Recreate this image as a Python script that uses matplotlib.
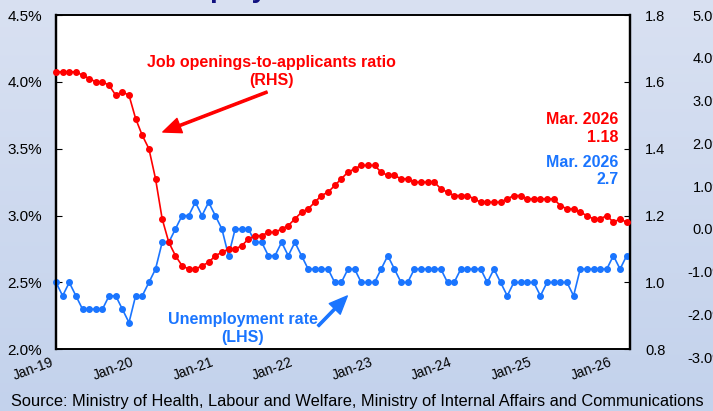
import numpy as np
import pandas as pd
import matplotlib
matplotlib.use('Agg')
import matplotlib.pyplot as plt
from matplotlib.ticker import FormatStrFormatter
from matplotlib.colors import LinearSegmentedColormap

# Datos mensuales Jan-19 .. Mar-26
meses = pd.date_range('2019-01-01', '2026-03-01', freq='MS')

# Tasa de desempleo (%), eje izquierdo
desempleo = [2.5, 2.4, 2.5, 2.4, 2.3, 2.3, 2.3, 2.3, 2.4, 2.4, 2.3, 2.2,
             2.4, 2.4, 2.5, 2.6, 2.8, 2.8, 2.9, 3.0, 3.0, 3.1, 3.0, 3.1,
             3.0, 2.9, 2.7, 2.9, 2.9, 2.9, 2.8, 2.8, 2.7, 2.7, 2.8, 2.7,
             2.8, 2.7, 2.6, 2.6, 2.6, 2.6, 2.5, 2.5, 2.6, 2.6, 2.5, 2.5,
             2.5, 2.6, 2.7, 2.6, 2.5, 2.5, 2.6, 2.6, 2.6, 2.6, 2.6, 2.5,
             2.5, 2.6, 2.6, 2.6, 2.6, 2.5, 2.6, 2.5, 2.4, 2.5, 2.5, 2.5,
             2.5, 2.4, 2.5, 2.5, 2.5, 2.5, 2.4, 2.6, 2.6, 2.6, 2.6, 2.6,
             2.7, 2.6, 2.7]

# Ratio ofertas/solicitantes, eje derecho
ratio = [1.63, 1.63, 1.63, 1.63, 1.62, 1.61, 1.60, 1.60, 1.59, 1.56, 1.57, 1.56,
         1.49, 1.44, 1.40, 1.31, 1.19, 1.12, 1.08, 1.05, 1.04, 1.04, 1.05, 1.06,
         1.08, 1.09, 1.10, 1.10, 1.11, 1.13, 1.14, 1.14, 1.15, 1.15, 1.16, 1.17,
         1.19, 1.21, 1.22, 1.24, 1.26, 1.27, 1.29, 1.31, 1.33, 1.34, 1.35, 1.35,
         1.35, 1.33, 1.32, 1.32, 1.31, 1.31, 1.30, 1.30, 1.30, 1.30, 1.28, 1.27,
         1.26, 1.26, 1.26, 1.25, 1.24, 1.24, 1.24, 1.24, 1.25, 1.26, 1.26, 1.25,
         1.25, 1.25, 1.25, 1.25, 1.23, 1.22, 1.22, 1.21, 1.20, 1.19, 1.19, 1.20,
         1.18, 1.19, 1.18]

ticks_izq = [2.0, 2.5, 3.0, 3.5, 4.0, 4.5]
ticks_der = [0.8, 1.0, 1.2, 1.4, 1.6, 1.8]
ticks_otro = [-3.0, -2.0, -1.0, 0.0, 1.0, 2.0, 3.0, 4.0, 5.0]

x = np.arange(len(meses))
etiquetas_x = [m.strftime('%b-%y') for m in meses[::12]]

azul = '#1a75ff'
rojo = '#ff0000'

plt.rcParams['font.family'] = ['Liberation Sans', 'DejaVu Sans']

W, H = 713, 411
fig = plt.figure(figsize=(W / 100, H / 100), dpi=100)

# fondo degradado
fondo = fig.add_axes([0, 0, 1, 1], zorder=-10)
cmap = LinearSegmentedColormap.from_list('fondo', ['#d9e1f2', '#c3d2ec'])
fondo.imshow(np.linspace(0, 1, 256).reshape(-1, 1), aspect='auto', cmap=cmap,
             extent=[0, 1, 0, 1])
fondo.axis('off')

# eje recortado de otro grafico a la derecha
ax3 = fig.add_axes([56 / W, 1 - 357 / H, (630 - 56) / W, (357 - 15) / H])
ax3.patch.set_visible(False)
for s in ax3.spines.values():
    s.set_visible(False)
ax3.set_ylim(-3, 5)
ax3.set_yticks(ticks_otro)
ax3.yaxis.set_major_formatter(FormatStrFormatter('%.1f%%'))
ax3.yaxis.tick_right()
ax3.set_xticks([])
ax3.tick_params(axis='y', length=0, pad=69, labelsize=10.5)
for lab in ax3.get_yticklabels():
    lab.set_horizontalalignment('right')

ax = fig.add_axes([56 / W, 1 - 349.3 / H, (630 - 56) / W, (349.3 - 15) / H])
ax.set_facecolor('white')
ax.plot(x, desempleo, color=azul, lw=1.2, marker='o', ms=4, clip_on=False, zorder=3)
ax.set_xlim(0, 86.5)
ax.set_ylim(2.0, 4.5)
ax.set_yticks(ticks_izq)
ax.yaxis.set_major_formatter(FormatStrFormatter('%.1f%%'))
ax.set_xticks(x[::12])
ax.set_xticklabels(etiquetas_x, rotation=20, ha='right')
ax.tick_params(axis='x', length=0, pad=4, labelsize=10)
ax.tick_params(axis='y', direction='in', length=4, pad=10, labelsize=11)

ax2 = ax.twinx()
ax2.plot(x, ratio, color=rojo, lw=1.2, marker='o', ms=4, clip_on=False, zorder=3)
ax2.set_ylim(0.8, 1.8)
ax2.set_yticks(ticks_der)
ax2.yaxis.set_major_formatter(FormatStrFormatter('%.1f'))
ax2.tick_params(axis='y', direction='in', length=4, pad=11, labelsize=10.5)

for a in (ax, ax2):
    for s in a.spines.values():
        s.set_color('black')
        s.set_linewidth(1.2)
    a.spines['left'].set_linewidth(1.6)
    a.spines['right'].set_linewidth(1.6)

# anotaciones
ax.text(32.5, 4.078, 'Job openings-to-applicants ratio\n(RHS)', color=rojo,
        fontsize=11.5, fontweight='bold', ha='center', va='center', multialignment='center')
ax.annotate('', xy=(16.1, 3.625), xytext=(31.8, 3.924),
            arrowprops=dict(facecolor=rojo, edgecolor=rojo, width=1.6, headwidth=11,
                            headlength=13, shrink=0))
ax.text(28.1, 2.156, 'Unemployment rate\n(LHS)', color=azul,
        fontsize=11.5, fontweight='bold', ha='center', va='center', multialignment='center')
ax.annotate('', xy=(43.9, 2.399), xytext=(39.5, 2.174),
            arrowprops=dict(facecolor=azul, edgecolor=azul, width=1.6, headwidth=11,
                            headlength=13, shrink=0))

ultimo = meses[-1].strftime('%b. %Y')
ax.text(84.8, 3.651, f'{ultimo}\n{ratio[-1]:.2f}', color=rojo, fontsize=11.5,
        fontweight='bold', ha='right', va='center', multialignment='right')
ax.text(84.8, 3.334, f'{ultimo}\n{desempleo[-1]:.1f}', color=azul, fontsize=11.5,
        fontweight='bold', ha='right', va='center', multialignment='right')

# titulo cortado arriba
fig.text(167 / W, 1 + 3 / H, 'Employment', fontsize=20, fontweight='bold',
         color='#10107f', ha='left', va='baseline')

fig.text(11 / W, 1 - 401 / H,
         'Source: Ministry of Health, Labour and Welfare, Ministry of Internal Affairs and Communications',
         fontsize=11.8, ha='left', va='center')

fig.savefig('out.png', dpi=100)
